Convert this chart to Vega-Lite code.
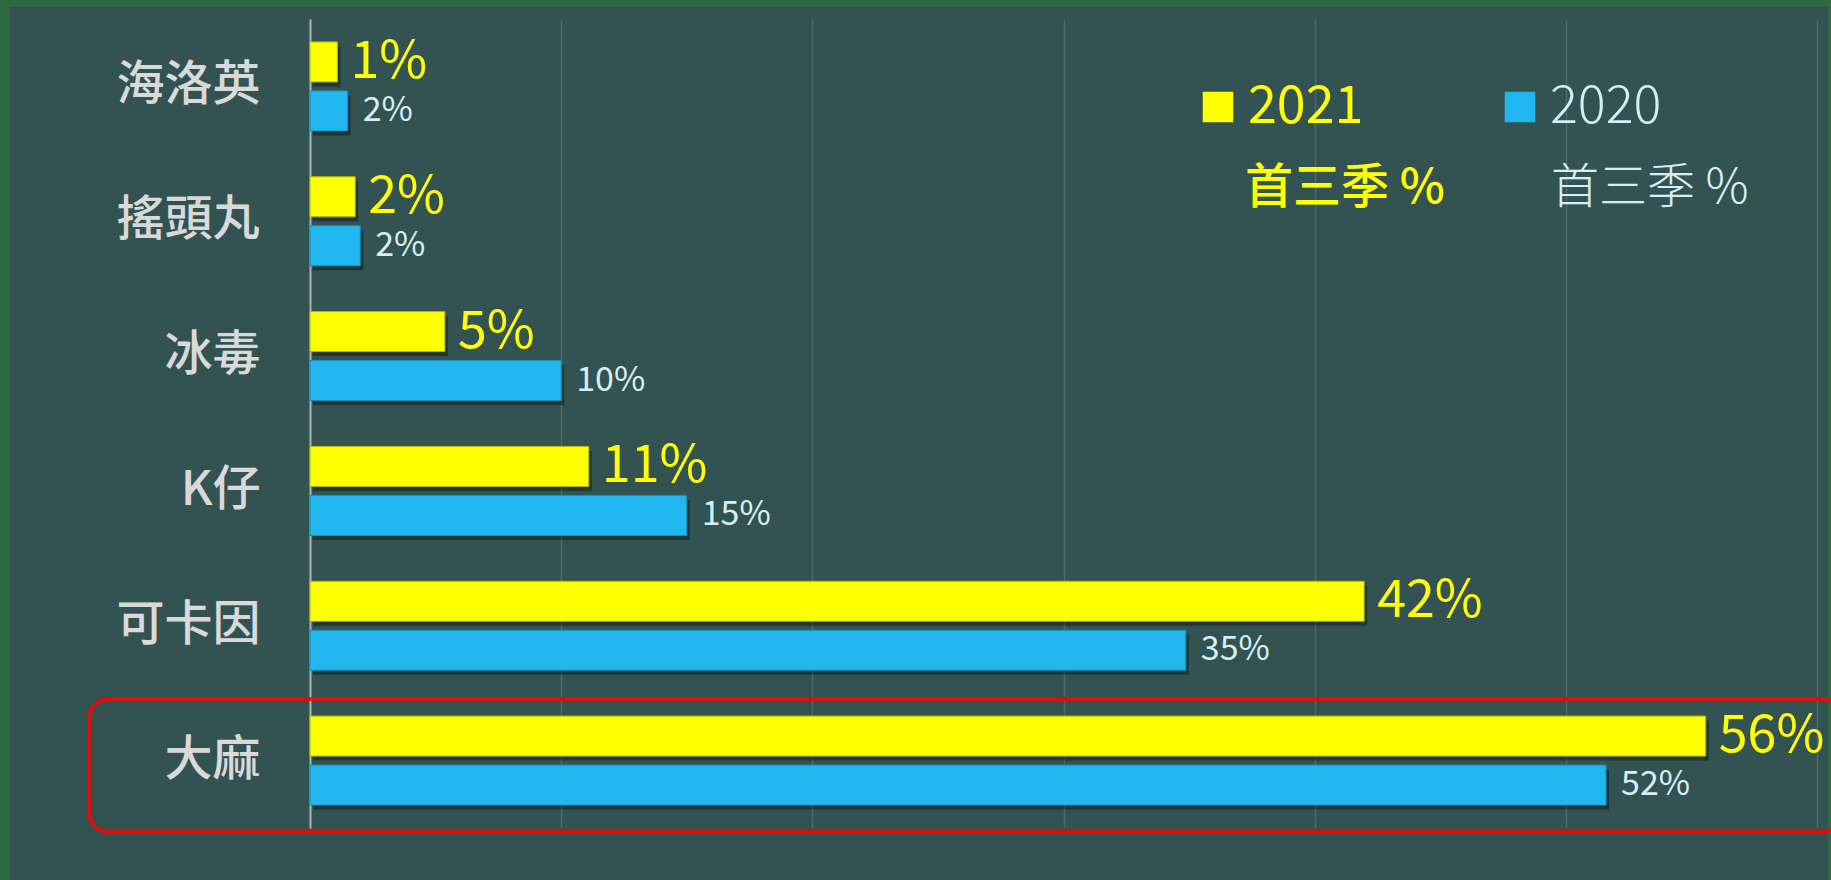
{
  "$schema": "https://vega.github.io/schema/vega-lite/v6.json",
  "width": 1818,
  "height": 873,
  "autosize": {"type": "none"},
  "padding": {"left": 10, "top": 7, "right": 3, "bottom": 0},
  "background": "#2E6A3F",
  "config": {
    "view": {"fill": "#325351", "stroke": null},
    "font": "Noto Sans CJK TC",
    "axisY": {"grid": false, "ticks": false, "tickSize": 0, "domainColor": "#A9B3B3", "domainWidth": 2, "labelFontSize": 48, "labelFontWeight": 500, "labelColor": "#D9D9D9", "labelPadding": 50, "labelFont": "Noto Sans CJK TC", "offset": -300}
  },
  "data": {
    "values": [
      {"drug": "海洛英", "series": "2021", "value": 1.09, "label": "1%"},
      {"drug": "海洛英", "series": "2020", "value": 1.5, "label": "2%"},
      {"drug": "搖頭丸", "series": "2021", "value": 1.8, "label": "2%"},
      {"drug": "搖頭丸", "series": "2020", "value": 2.0, "label": "2%"},
      {"drug": "冰毒", "series": "2021", "value": 5.37, "label": "5%"},
      {"drug": "冰毒", "series": "2020", "value": 10.0, "label": "10%"},
      {"drug": "K仔", "series": "2021", "value": 11.1, "label": "11%"},
      {"drug": "K仔", "series": "2020", "value": 15.0, "label": "15%"},
      {"drug": "可卡因", "series": "2021", "value": 41.97, "label": "42%"},
      {"drug": "可卡因", "series": "2020", "value": 34.87, "label": "35%"},
      {"drug": "大麻", "series": "2021", "value": 55.57, "label": "56%"},
      {"drug": "大麻", "series": "2020", "value": 51.6, "label": "52%"}
    ]
  },
  "encoding": {
    "y": {
      "field": "drug", "type": "nominal",
      "sort": ["海洛英", "搖頭丸", "冰毒", "K仔", "可卡因", "大麻"],
      "scale": {"range": [12, 821], "paddingInner": 0, "paddingOuter": 0},
      "axis": {"title": null}
    },
    "x": {
      "field": "value", "type": "quantitative",
      "scale": {"domain": [0, 60], "range": [300, 1807], "nice": false, "zero": true},
      "axis": {"title": null, "orient": "top", "values": [10, 20, 30, 40, 50, 60], "grid": true, "gridColor": "#4B6968", "gridWidth": 1.5, "labels": false, "ticks": false, "domain": false}
    }
  },
  "layer": [
    {
      "transform": [{"filter": "datum.drug === '大麻' && datum.series === '2021'"}],
      "mark": {"type": "bar", "fill": "transparent", "stroke": "#FF0000", "strokeWidth": 3.5, "cornerRadius": 20, "height": 133, "yOffset": 5, "clip": false},
      "encoding": {
        "x": {"datum": -8.8, "axis": {"title": null, "orient": "top", "values": [10, 20, 30, 40, 50, 60], "grid": true, "gridColor": "#4B6968", "gridWidth": 1.5, "labels": false, "ticks": false, "domain": false}},
        "x2": {"datum": 61}
      }
    },
    {
      "transform": [{"filter": "datum.series === '2021'"}],
      "mark": {"type": "bar", "color": "#000000", "height": 40, "yOffset": -20, "xOffset": 3},
      "encoding": {
        "opacity": {
          "field": "series", "type": "ordinal", "sort": ["2021", "2020"],
          "scale": {"range": [0.35, 0.35]},
          "legend": {
            "orient": "none", "legendX": 1187, "legendY": 158, "direction": "horizontal", "title": null,
            "symbolSize": 0, "symbolOpacity": 0, "labelOffset": 0, "columnPadding": 58, "padding": 0,
            "labelFontSize": 48, "labelFont": "Noto Sans CJK TC", "labelLimit": 400,
            "labelExpr": "'首三季 %'",
            "labelColor": {"expr": "datum.value === '2021' ? '#FFFF00' : '#D6EEF5'"},
            "labelFontWeight": {"expr": "datum.value === '2021' ? 500 : 300"}
          }
        }
      }
    },
    {
      "transform": [{"filter": "datum.series === '2020'"}],
      "mark": {"type": "bar", "color": "#000000", "height": 40, "yOffset": 29, "xOffset": 3},
      "encoding": {
        "opacity": {"field": "series", "type": "ordinal", "sort": ["2021", "2020"], "scale": {"range": [0.35, 0.35]}}
      }
    },
    {
      "transform": [{"filter": "datum.series === '2021'"}],
      "mark": {"type": "bar", "height": 40, "yOffset": -24.5, "stroke": "#B5B500", "strokeWidth": 1},
      "encoding": {
        "color": {
          "field": "series", "type": "nominal",
          "scale": {"domain": ["2021", "2020"], "range": ["#FFFF00", "#20B6EE"]},
          "legend": {
            "orient": "none", "legendX": 1182, "legendY": 74, "direction": "horizontal", "title": null,
            "symbolType": "square", "symbolSize": 930, "symbolStrokeWidth": 0, "symbolOpacity": 1,
            "labelFontSize": 52, "labelFont": "Noto Sans CJK TC", "labelOffset": 4, "columnPadding": 130,
            "padding": 0, "labelLimit": 400,
            "labelColor": {"expr": "datum.value === '2021' ? '#FFFF00' : '#D6EEF5'"},
            "labelFontWeight": {"expr": "datum.value === '2021' ? 'normal' : 300"}
          }
        }
      }
    },
    {
      "transform": [{"filter": "datum.series === '2020'"}],
      "mark": {"type": "bar", "height": 40, "yOffset": 24.5, "stroke": "#1890C0", "strokeWidth": 1},
      "encoding": {
        "color": {"field": "series", "type": "nominal", "scale": {"domain": ["2021", "2020"], "range": ["#FFFF00", "#20B6EE"]}}
      }
    },
    {
      "transform": [{"filter": "datum.series === '2021'"}],
      "mark": {"type": "text", "align": "left", "baseline": "middle", "dx": 13, "yOffset": -24.5, "fontSize": 52, "color": "#FFFF00", "font": "Noto Sans CJK TC"},
      "encoding": {"text": {"field": "label"}}
    },
    {
      "transform": [{"filter": "datum.series === '2020'"}],
      "mark": {"type": "text", "align": "left", "baseline": "middle", "dx": 15, "yOffset": 24.5, "fontSize": 34, "color": "#D6EEF5", "font": "Noto Sans CJK TC"},
      "encoding": {"text": {"field": "label"}}
    }
  ]
}
